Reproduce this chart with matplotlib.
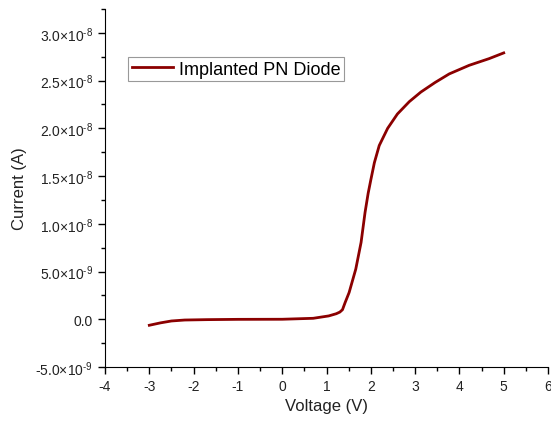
import numpy as np
import matplotlib
matplotlib.use('Agg')
import matplotlib.pyplot as plt
from matplotlib.ticker import MultipleLocator, FuncFormatter

plt.rcParams['font.family'] = ['Liberation Sans', 'DejaVu Sans']
plt.rcParams['mathtext.fontset'] = 'custom'
plt.rcParams['mathtext.rm'] = 'Liberation Sans'
plt.rcParams['mathtext.it'] = 'Liberation Sans'
plt.rcParams['axes.unicode_minus'] = False

# I-V curve
voltage = [-3.0, -2.75, -2.5, -2.2, -1.7, -1.0, 0.0, 0.7, 1.05, 1.22, 1.3, 1.36,
           1.42, 1.51, 1.66, 1.78, 1.87, 1.94, 2.0, 2.08, 2.19, 2.38, 2.60,
           2.87, 3.13, 3.45, 3.77, 4.22, 4.67, 5.0]
current = [-0.63e-9, -0.38e-9, -0.18e-9, -0.08e-9, -0.04e-9, -0.01e-9, 0.0, 0.1e-9,
           0.35e-9, 0.58e-9, 0.75e-9, 1.0e-9, 1.75e-9, 2.8e-9, 5.25e-9, 8.05e-9,
           1.12e-8, 1.32e-8, 1.46e-8, 1.64e-8, 1.82e-8, 2.0e-8, 2.15e-8,
           2.28e-8, 2.38e-8, 2.48e-8, 2.57e-8, 2.66e-8, 2.73e-8, 2.79e-8]
series_name = 'Implanted PN Diode'


def sci(v, pos):
    if abs(v) < 1e-20:
        return '0.0'
    e = int(np.floor(np.log10(abs(v))))
    m = v / 10**e
    sign = '-' if m < 0 else ''
    return r'%s%.1f$\mathrm{{\times}10^{\text{-}%d}}$' % (sign, abs(m), -e)


fig = plt.figure(figsize=(5.51, 4.27), dpi=100)
ax = fig.add_axes([0.1906, 0.1382, 0.8040, 0.8384])

ax.plot(voltage, current, color='#8b0000', lw=2.0, label=series_name,
        solid_joinstyle='round')

ax.set_xlim(-4, 6)
ax.set_ylim(-5e-9, 3.25e-8)
ax.xaxis.set_major_locator(MultipleLocator(1))
ax.xaxis.set_minor_locator(MultipleLocator(0.5))
ax.yaxis.set_major_locator(MultipleLocator(5e-9))
ax.yaxis.set_minor_locator(MultipleLocator(2.5e-9))
ax.yaxis.set_major_formatter(FuncFormatter(sci))
ax.xaxis.set_major_formatter(FuncFormatter(lambda v, p: '%d' % v))

for s in ['top', 'right']:
    ax.spines[s].set_visible(False)
ax.tick_params(which='major', direction='out', length=5, width=1, labelsize=10,
               labelcolor='#222222')
ax.tick_params(which='minor', direction='out', length=3, width=1)

ax.set_xlabel('Voltage (V)', fontsize=12, color='#222222')
ax.set_ylabel('Current (A)', fontsize=12, color='#222222', labelpad=6)

leg = ax.legend(loc='upper left', bbox_to_anchor=(0.052, 0.866), borderaxespad=0,
                fancybox=False, fontsize=13, handlelength=2.3, handletextpad=0.3,
                borderpad=0.2, framealpha=1)
leg.get_frame().set_edgecolor('#999999')
leg.get_frame().set_linewidth(0.8)

fig.savefig('out.png', dpi=100)
